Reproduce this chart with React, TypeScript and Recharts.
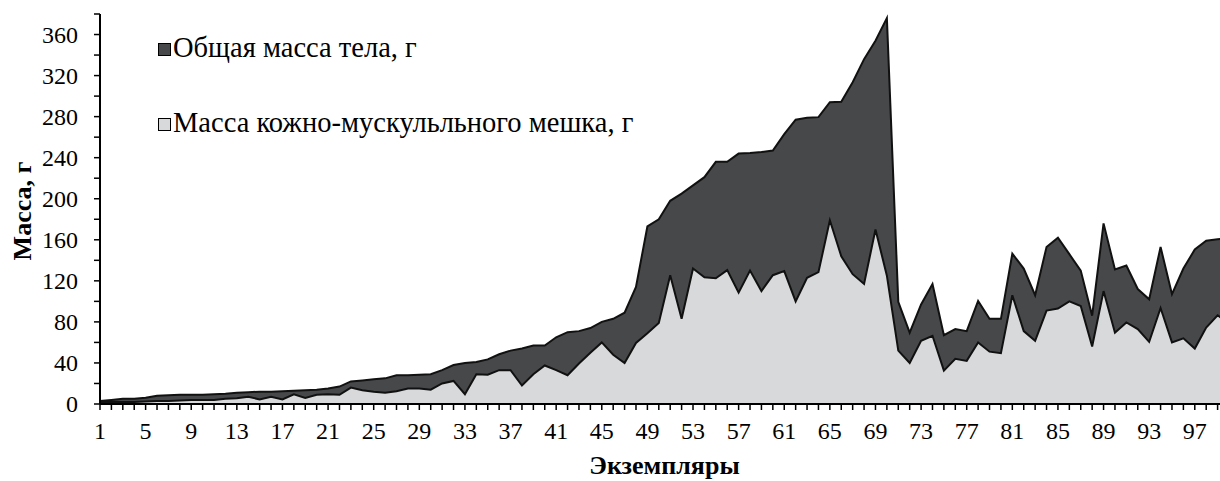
import React from 'react';
import { AreaChart, Area, XAxis, YAxis, Legend } from 'recharts';

const specimens: number[] = Array.from({ length: 100 }, (_, i) => i + 1);

const totalMass: number[] = [
  3, 4, 5, 5, 6, 8, 8.5, 9, 9, 9,
  9.5, 10, 11, 11.5, 12, 12, 12.5, 13, 13.5, 14,
  15, 17, 22, 23, 24, 25, 28, 28, 28.5, 29,
  33, 38, 40, 41, 43.5, 48.5, 52, 54, 57, 57,
  65, 70, 71, 74, 80, 83, 89, 114, 173, 180,
  198, 205, 213, 221, 236, 236, 244, 244.5, 245.5, 247,
  263, 277, 279, 279.5, 294, 294.5, 313.5, 336, 354, 376,
  99.5, 69.5, 97, 117, 67, 73, 71, 100.5, 83, 83,
  146.5, 132, 106, 153, 162, 146, 130, 86, 176, 131,
  135, 112, 102, 153, 107, 132, 150.5, 159, 160.5, 162,
];

const sacMass: number[] = [
  2, 2, 2, 2, 2.5, 3, 3, 3.5, 4, 4,
  4, 5, 5.5, 7, 4.5, 7, 4.5, 9.5, 6, 9,
  9.5, 9, 16, 13.5, 12, 11, 12.5, 15, 15, 14,
  20, 22.5, 9.5, 29, 28.5, 33, 33, 18, 29, 37.5,
  33, 28, 39.5, 50, 60, 48, 40, 59.5, 69, 79,
  125.5, 83, 132, 123.5, 122.5, 130.5, 108.5, 130, 110, 125.5,
  129.5, 100, 123, 128.5, 179, 144, 126.5, 117, 170, 125,
  52, 40, 61.5, 66.5, 32.5, 44, 42, 60, 51, 49.5,
  106, 71, 61.5, 91, 93, 100, 95.5, 56, 110, 69.5,
  79.5, 73, 60.5, 93.5, 60, 64, 54, 74.5, 86.5, 78,
];

const yTicks: number[] = [0, 20, 40, 60, 80, 100, 120, 140, 160, 180, 200, 220, 240, 260, 280, 300, 320, 340, 360, 380];
const yLabelStep = 40;
const xLabelStep = 4;

const seriesNames = ['Общая масса тела, г', 'Масса кожно-мускульльного мешка, г'];
const seriesFills = ['#47484a', '#d8d9db'];
const xTitle = 'Экземпляры';
const yTitle = 'Масса, г';

const data = specimens.map((n, i) => ({ n, total: totalMass[i], sac: sacMass[i] }));

const FONT = "'Liberation Serif', 'Times New Roman', serif";
const TICK_FS = 24;

const YTick = (props: any) => {
  const { x, y, payload } = props;
  if (payload.value % yLabelStep !== 0) return <g />;
  return (
    <text x={x} y={y} dy="0.35em" textAnchor="end" fontFamily={FONT} fontSize={TICK_FS} fill="#000">
      {payload.value}
    </text>
  );
};

const XTick = (props: any) => {
  const { x, y, payload } = props;
  if ((payload.value - 1) % xLabelStep !== 0) return <g />;
  return (
    <text x={x} y={y} dy="0.71em" textAnchor="middle" fontFamily={FONT} fontSize={TICK_FS} fill="#000">
      {payload.value}
    </text>
  );
};

const XTitle = (props: any) => {
  const vb = props.viewBox || { x: 0, y: 0, width: 0, height: 0 };
  const cx = vb.x + vb.width / 2;
  return (
    <text x={cx} y={465} dy="0.35em" textAnchor="middle" fontFamily={FONT} fontSize={26} fontWeight="bold" fill="#000">
      {xTitle}
    </text>
  );
};

const YTitle = (props: any) => {
  const vb = props.viewBox || { x: 0, y: 0, width: 0, height: 0 };
  const cy = vb.y + vb.height / 2 + 2;
  const cx = 22;
  return (
    <text x={cx} y={cy} dy="0.35em" textAnchor="middle" transform={`rotate(-90, ${cx}, ${cy})`} fontFamily={FONT} fontSize={26} fontWeight="bold" fill="#000">
      {yTitle}
    </text>
  );
};

const LegendContent = () => (
  <div style={{ position: 'relative', width: 700, height: 150, fontFamily: FONT }}>
    {seriesNames.map((name, i) => (
      <div key={name} style={{ position: 'absolute', left: 0, top: i * 75, height: 30, whiteSpace: 'nowrap' }}>
        <span style={{ position: 'absolute', left: 0, top: 9, width: 11, height: 11, background: seriesFills[i], border: '1px solid #000' }} />
        <span style={{ position: 'absolute', left: 15, top: 0, fontSize: 28.5, lineHeight: '28px', color: '#000', fontFamily: FONT }}>{name}</span>
      </div>
    ))}
  </div>
);

export default function App() {
  return (
    <div style={{ position: 'absolute', left: 0, top: 0, width: 1220, height: 481, overflow: 'hidden', background: '#fff', fontFamily: FONT }}>
      <AreaChart width={1240} height={481} data={data} margin={{ top: 14, right: 11, bottom: 0, left: 0 }}>
        <XAxis
          dataKey="n"
          type="category"
          interval={0}
          tick={<XTick />}
          tickSize={6}
          tickMargin={12}
          axisLine={{ stroke: '#000', strokeWidth: 2 }}
          tickLine={{ stroke: '#000', strokeWidth: 1.5 }}
          height={77}
          label={{ content: (p: any) => <XTitle {...p} /> }}
        />
        <YAxis
          type="number"
          domain={[0, 380]}
          ticks={yTicks}
          interval={0}
          tick={<YTick />}
          tickSize={6}
          tickMargin={16}
          axisLine={{ stroke: '#000', strokeWidth: 2 }}
          tickLine={{ stroke: '#000', strokeWidth: 1.5 }}
          width={100}
          label={{ content: (p: any) => <YTitle {...p} /> }}
        />
        <Legend
          layout="vertical"
          align="center"
          verticalAlign="middle"
          wrapperStyle={{ left: 158, top: 34, width: 700, height: 150 }}
          content={<LegendContent />}
        />
        <Area type="linear" dataKey="total" name={seriesNames[0]} stroke="#111" strokeWidth={2} fill={seriesFills[0]} fillOpacity={1} dot={false} activeDot={false} isAnimationActive={false} />
        <Area type="linear" dataKey="sac" name={seriesNames[1]} stroke="#111" strokeWidth={2} fill={seriesFills[1]} fillOpacity={1} dot={false} activeDot={false} isAnimationActive={false} />
      </AreaChart>
    </div>
  );
}
